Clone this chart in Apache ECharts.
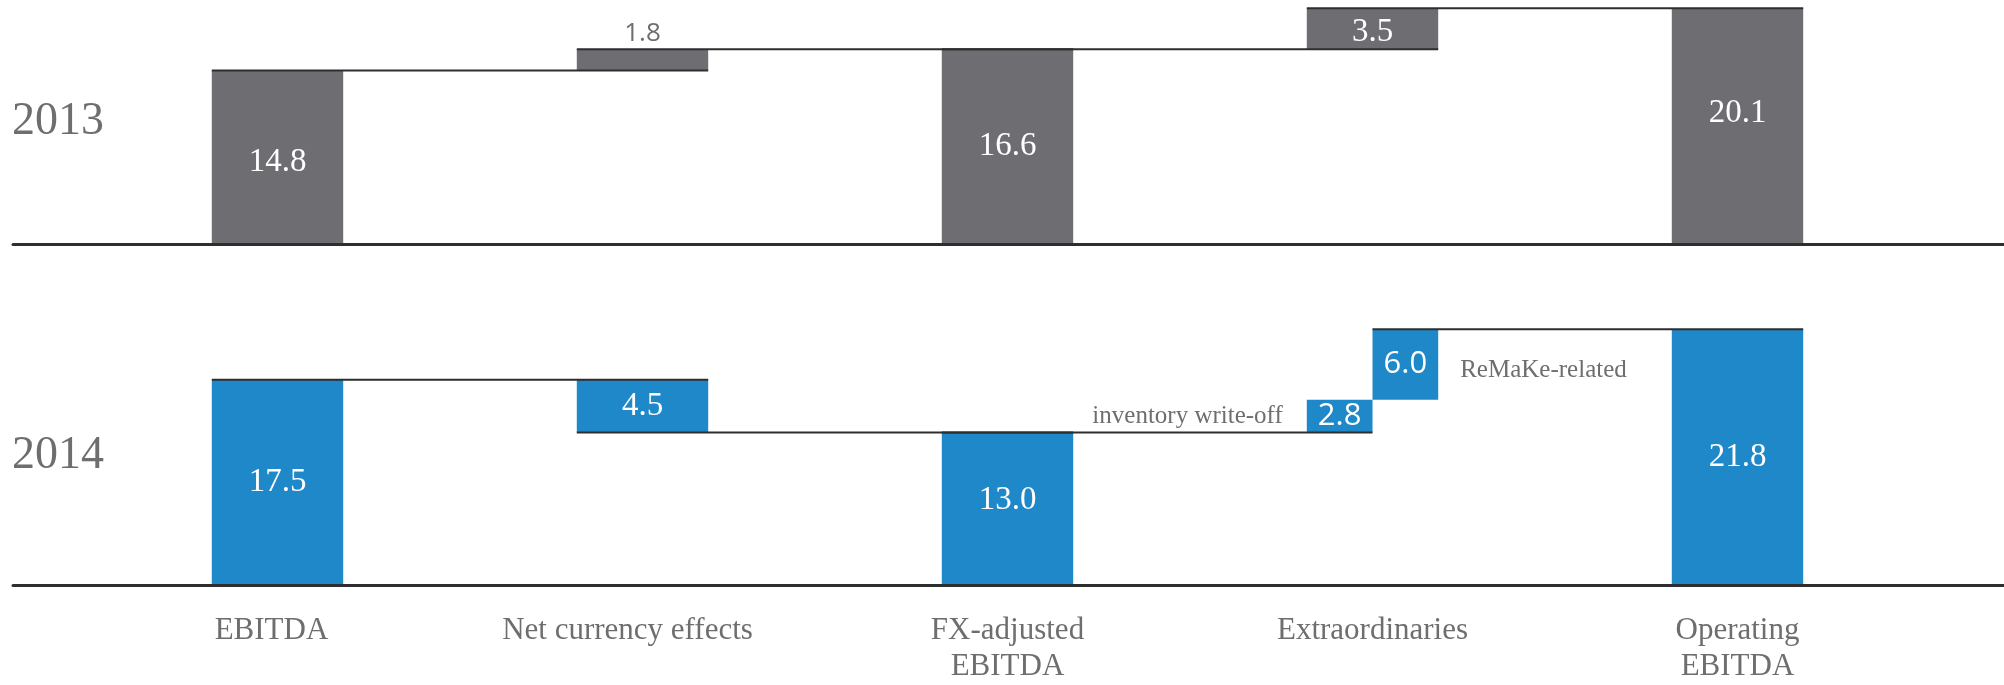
<!DOCTYPE html>
<html><head><meta charset="utf-8">
<script src="https://cdn.jsdelivr.net/npm/echarts@6/dist/echarts.min.js"></script>
<style>html,body{margin:0;padding:0;background:#fff}#c{width:2004px;height:685px}</style>
</head><body><div id="c"></div>
<script>
// ---- data ----
const categories = ['EBITDA', 'Net currency effects', 'FX-adjusted\nEBITDA', 'Extraordinaries', 'Operating\nEBITDA'];
const stepKinds = ['total', 'change', 'total', 'change', 'total'];
const years = ['2013', '2014'];
const values2013 = [14.8, 1.8, 16.6, 3.5, 20.1];
const values2014 = [17.5, -4.5, 13.0, null, 21.8];
const extraordinaries2014 = [2.8, 6.0];
const extraordinaryNotes2014 = ['inventory write-off', 'ReMaKe-related'];

// ---- style ----
const GRAY = '#6e6d72', BLUE = '#1e88c8', TEXT = '#6e6e6e', LINE = '#2e2e2e';
const SERIF = '"Liberation Serif", serif', SANS = '"Open Sans", sans-serif';
const BAR_FRAC = 0.36;
// small per-label nudges (year index - category index)
const LABEL_NUDGE = {'0-0': [0, 5], '0-3': [0, 4], '0-4': [0, -13], '1-2': [0, -8]};
// right padding that shifts some category labels slightly left
const CAT_LABEL_PAD = [12, 30, 0, 0, 0];

const r1 = x => Math.round(x * 10) / 10;

function buildSteps(values, parts) {
  const steps = []; let run = 0;
  values.forEach((v, i) => {
    if (stepKinds[i] === 'total') { steps.push({cat: i, lo: 0, hi: v, part: 0, end: v}); run = v; }
    else if (v === null) {
      parts.forEach((p, j) => { steps.push({cat: i, lo: run, hi: run + p, part: j + 1, end: run + p}); run += p; });
    } else {
      const nr = run + v;
      steps.push({cat: i, lo: Math.min(run, nr), hi: Math.max(run, nr), part: 0, end: nr}); run = nr;
    }
  });
  return steps;
}

function labelFor(step, yearIdx) {
  const v = r1(step.hi - step.lo);
  const small = v < 2;
  const sans = step.part > 0 || small;
  const lab = {
    show: true, position: small ? 'top' : 'inside', distance: small ? 3 : 5,
    color: small ? TEXT : '#ffffff', fontFamily: sans ? SANS : SERIF,
    fontSize: small ? 26 : (sans ? 31 : 33),
    formatter: p => Number(p.value).toFixed(1)
  };
  if (step.part === 0 && LABEL_NUDGE[yearIdx + '-' + step.cat]) lab.offset = LABEL_NUDGE[yearIdx + '-' + step.cat];
  return lab;
}

const panels = [
  {steps: buildSteps(values2013, []), color: GRAY, mainX: 0, splitX: null, y: 0},
  {steps: buildSteps(values2014, extraordinaries2014), color: BLUE, mainX: 1, splitX: 2, y: 1}
];

const series = [];
panels.forEach((pn, yi) => {
  const n = categories.length;
  const mainBase = new Array(n).fill('-'), mainVal = new Array(n).fill('-');
  const partBase = [new Array(n).fill('-'), new Array(n).fill('-')];
  const partVal = [new Array(n).fill('-'), new Array(n).fill('-')];
  const notes = [];
  pn.steps.forEach(s => {
    const item = {value: r1(s.hi - s.lo), label: labelFor(s, yi)};
    if (s.part === 0) { mainBase[s.cat] = r1(s.lo); mainVal[s.cat] = item; }
    else {
      partBase[s.part - 1][s.cat] = r1(s.lo); partVal[s.part - 1][s.cat] = item;
      notes.push([s.cat, (s.lo + s.hi) / 2, s.part === 1 ? -1 : 1]);
    }
  });
  const common = {type: 'bar', xAxisIndex: pn.mainX, yAxisIndex: pn.y, silent: true, barWidth: (BAR_FRAC * 100) + '%'};
  series.push(Object.assign({}, common, {name: years[yi] + ' base', stack: 'm' + yi, data: mainBase, itemStyle: {color: 'transparent'}}));
  series.push(Object.assign({}, common, {name: years[yi], stack: 'm' + yi, data: mainVal, itemStyle: {color: pn.color}}));
  if (pn.splitX !== null) {
    [0, 1].forEach(j => {
      const c2 = {type: 'bar', xAxisIndex: pn.splitX, yAxisIndex: pn.y, silent: true, barWidth: (BAR_FRAC * 50) + '%', barGap: '0%'};
      series.push(Object.assign({}, c2, {name: years[yi] + ' ex' + j + ' base', stack: 'e' + j, data: partBase[j], itemStyle: {color: 'transparent'}}));
      series.push(Object.assign({}, c2, {name: years[yi] + ' ex' + j, stack: 'e' + j, data: partVal[j], itemStyle: {color: pn.color}}));
    });
  }
  // connectors
  const conns = [];
  for (let k = 0; k < pn.steps.length - 1; k++) {
    const a = pn.steps[k], b = pn.steps[k + 1];
    if (a.cat !== b.cat) conns.push([a.cat, r1(a.end), b.cat, a.part, b.part]);
  }
  series.push({
    type: 'custom', xAxisIndex: pn.mainX, yAxisIndex: pn.y, silent: true, z: 5,
    encode: {x: 0, y: 1}, data: conns,
    renderItem: (params, api) => {
      const ca = api.coord([api.value(0), api.value(1)]);
      const cb = api.coord([api.value(2), api.value(1)]);
      const h = api.size([1, 0])[0] * BAR_FRAC / 2;
      const pa = api.value(3), pb = api.value(4);
      const x1 = pa === 2 ? ca[0] : ca[0] - h;
      const x2 = pb === 1 ? cb[0] : cb[0] + h;
      return {type: 'line', shape: {x1: x1, y1: ca[1], x2: x2, y2: ca[1]}, style: {stroke: LINE, lineWidth: 2}};
    }
  });
  if (notes.length) {
    series.push({
      type: 'custom', xAxisIndex: pn.mainX, yAxisIndex: pn.y, silent: true, z: 5,
      encode: {x: 0, y: 1}, data: notes,
      renderItem: (params, api) => {
        const c = api.coord([api.value(0), api.value(1)]);
        const h = api.size([1, 0])[0] * BAR_FRAC / 2;
        const side = api.value(2);
        return {type: 'text', x: side < 0 ? c[0] - h - 24 : c[0] + h + 22, y: c[1] + (side < 0 ? 0 : 6),
          style: {text: extraordinaryNotes2014[params.dataIndex], fill: TEXT, fontFamily: SERIF, fontSize: 25,
            align: side < 0 ? 'right' : 'left', verticalAlign: 'middle'}};
      }
    });
  }
});

const baseAxis = gi => ({type: 'value', gridIndex: gi, min: 0, max: 1, z: 10,
  axisLine: {show: true, onZero: false, lineStyle: {color: LINE, width: 3}},
  axisTick: {show: false}, axisLabel: {show: false}, splitLine: {show: false}});

const catRich = {};
CAT_LABEL_PAD.forEach((p, i) => {
  catRich['c' + i] = {fontFamily: SERIF, fontSize: 31, lineHeight: 36, color: TEXT, padding: [0, p, 0, 0]};
});

const option = {
  animation: false,
  backgroundColor: '#ffffff',
  title: years.map((y, i) => ({text: y, left: 12, top: i === 0 ? 99 : 433, padding: 0,
    textStyle: {fontFamily: SERIF, fontSize: 46, fontWeight: 'normal', color: TEXT}})),
  grid: [
    {left: 95, right: 84, top: 0, height: 244, outerBoundsMode: 'none', containLabel: false},
    {left: 95, right: 84, top: 327, height: 258, outerBoundsMode: 'none', containLabel: false},
    {left: 13, right: 0, top: 0, height: 244, outerBoundsMode: 'none', containLabel: false},
    {left: 13, right: 0, top: 327, height: 258, outerBoundsMode: 'none', containLabel: false}
  ],
  xAxis: [
    {type: 'category', gridIndex: 0, data: categories, axisLine: {show: false}, axisTick: {show: false}, axisLabel: {show: false}},
    {type: 'category', gridIndex: 1, data: categories, axisLine: {show: false}, axisTick: {show: false},
      axisLabel: {interval: 0, fontFamily: SERIF, fontSize: 31, lineHeight: 36, color: TEXT, margin: 28,
        formatter: (value, index) => value.split('\n').map(l => '{c' + index + '|' + l + '}').join('\n'),
        rich: catRich}},
    {type: 'category', gridIndex: 1, data: categories, show: false, position: 'top'},
    baseAxis(2), baseAxis(3)
  ],
  yAxis: [
    {type: 'value', gridIndex: 0, min: 0, max: 20.8, show: false},
    {type: 'value', gridIndex: 1, min: 0, max: 22, show: false},
    {type: 'value', gridIndex: 2, min: 0, max: 1, show: false},
    {type: 'value', gridIndex: 3, min: 0, max: 1, show: false}
  ],
  series: series
};

const chart = echarts.init(document.getElementById('c'), null, {renderer: 'canvas'});
chart.setOption(option);
</script>
</body></html>
